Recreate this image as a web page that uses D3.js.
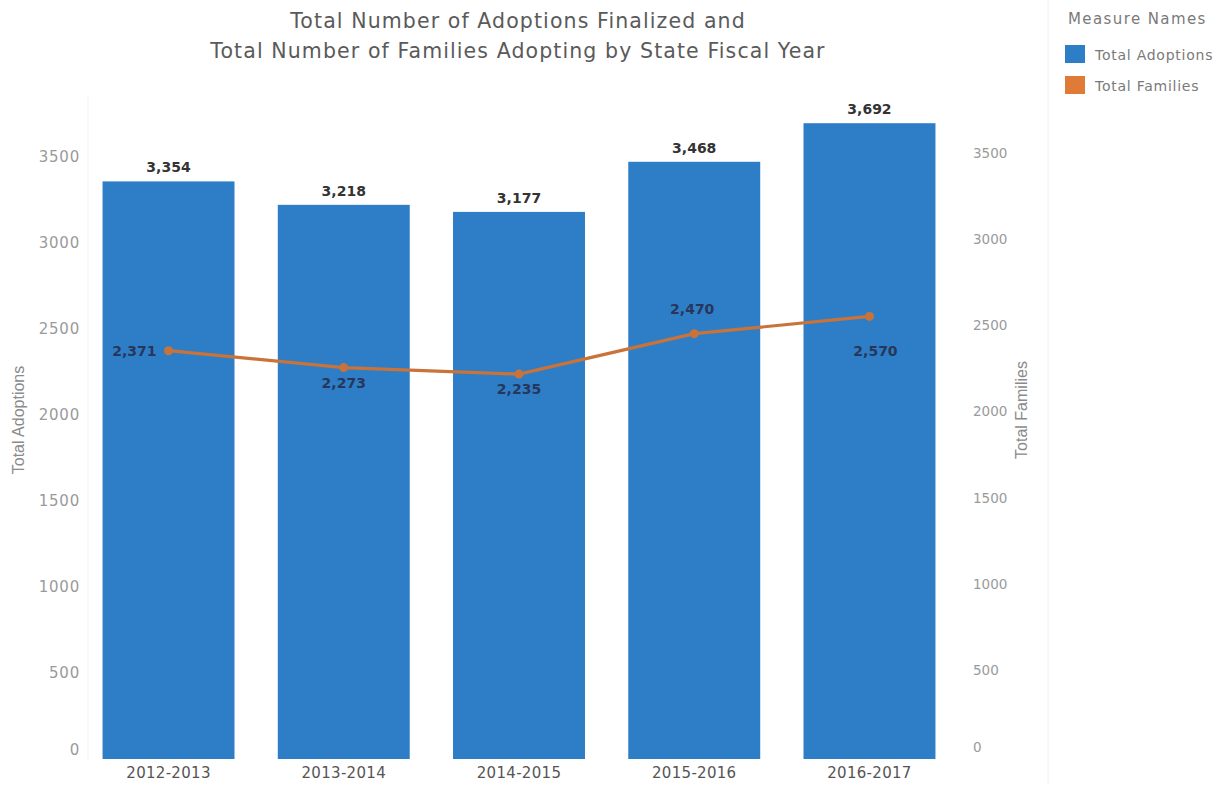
<!DOCTYPE html>
<html>
<head>
<meta charset="utf-8">
<script src="https://cdn.jsdelivr.net/npm/d3@7"></script>
<style>
  html, body { margin: 0; padding: 0; background: #fff; }
  svg { display: block; }
</style>
</head>
<body>
<svg id="chart" width="1222" height="785"></svg>
<script>
const years = ["2012-2013", "2013-2014", "2014-2015", "2015-2016", "2016-2017"];
const totalAdoptions = [3354, 3218, 3177, 3468, 3692];
const totalFamilies = [2371, 2273, 2235, 2470, 2570];
const axisTicks = [0, 500, 1000, 1500, 2000, 2500, 3000, 3500];
const titleLines = ["Total Number of Adoptions Finalized and", "Total Number of Families Adopting by State Fiscal Year"];
const legendItems = ["Total Adoptions", "Total Families"];

const blue = "#2d7ec6";
const orange = "#c9733b";
const svg = d3.select("#chart");
const font = "DejaVu Sans, Verdana, sans-serif";
const fmt = d3.format(",");

const x = d3.scaleBand().domain(years).range([88, 950]).paddingInner(0.247).paddingOuter(0.083);
const y = d3.scaleLinear().domain([0, 3850]).range([759, 96]);
const yR = d3.scaleLinear().domain([0, 3850]).range([756, 93]);

// faint pane separators
svg.append("line").attr("x1", 1048).attr("x2", 1048).attr("y1", 0).attr("y2", 785)
  .attr("stroke", "#f0f0f0").attr("stroke-width", 1);
svg.append("line").attr("x1", 88).attr("x2", 88).attr("y1", 95).attr("y2", 760)
  .attr("stroke", "#f3f3f3").attr("stroke-width", 1);

// title
svg.append("g").selectAll("text").data(titleLines).join("text")
  .attr("x", 518).attr("y", (d, i) => 28 + i * 30)
  .attr("text-anchor", "middle")
  .attr("font-family", font).attr("font-size", 20.5)
  .attr("letter-spacing", 1.1)
  .attr("fill", "#5a5a5a")
  .text(d => d);

// bars
svg.append("g").selectAll("rect").data(years).join("rect")
  .attr("x", d => x(d)).attr("width", x.bandwidth())
  .attr("y", (d, i) => y(totalAdoptions[i]))
  .attr("height", (d, i) => y(0) - y(totalAdoptions[i]))
  .attr("fill", blue);

// bar labels
svg.append("g").selectAll("text").data(years).join("text")
  .attr("x", d => x(d) + x.bandwidth() / 2)
  .attr("y", (d, i) => y(totalAdoptions[i]) - 9)
  .attr("text-anchor", "middle")
  .attr("font-family", font).attr("font-weight", "bold").attr("font-size", 14)
  .attr("fill", "#333")
  .text((d, i) => fmt(totalAdoptions[i]));

// left axis
const yAxisL = d3.axisLeft(y).tickValues(axisTicks).tickSize(0).tickPadding(0).tickFormat(d3.format("d"));
const gL = svg.append("g").attr("transform", "translate(80,0)").call(yAxisL);
gL.select(".domain").remove();
gL.selectAll("text").attr("font-family", font).attr("font-size", 15).attr("letter-spacing", 0.8)
  .attr("fill", "#9a9a9a")
  .attr("dy", d => d === 0 ? "-0.3em" : "0.32em");

// right axis
const yAxisR = d3.axisRight(yR).tickValues(axisTicks).tickSize(0).tickPadding(0).tickFormat(d3.format("d"));
const gR = svg.append("g").attr("transform", "translate(973,0)").call(yAxisR);
gR.select(".domain").remove();
gR.selectAll("text").attr("font-family", font).attr("font-size", 13.5)
  .attr("fill", "#9a9a9a")
  .attr("dy", d => d === 0 ? "-0.3em" : "0.32em");

// axis titles
svg.append("text").attr("transform", "translate(24,420) rotate(-90)")
  .attr("text-anchor", "middle").attr("font-family", "Liberation Sans, Arial, sans-serif")
  .attr("font-size", 16).attr("fill", "#8a8a8a").text("Total Adoptions");
svg.append("text").attr("transform", "translate(1027,410) rotate(-90)")
  .attr("text-anchor", "middle").attr("font-family", "Liberation Sans, Arial, sans-serif")
  .attr("font-size", 16).attr("fill", "#8a8a8a").text("Total Families");

// x axis
const xAxis = d3.axisBottom(x).tickSize(0).tickPadding(0);
const gX = svg.append("g").attr("transform", "translate(0,767)").call(xAxis);
gX.select(".domain").remove();
gX.selectAll("text").attr("font-family", font).attr("font-size", 15).attr("fill", "#555")
  .attr("letter-spacing", 0.3)
  .attr("dy", "0.71em");

// line
const cx = d => x(d) + x.bandwidth() / 2;
const line = d3.line().x((d, i) => cx(years[i])).y(d => y(d));
svg.append("path").datum(totalFamilies).attr("d", line)
  .attr("fill", "none").attr("stroke", orange).attr("stroke-width", 3.2)
  .attr("stroke-linejoin", "round");
svg.append("g").selectAll("circle").data(totalFamilies).join("circle")
  .attr("cx", (d, i) => cx(years[i])).attr("cy", d => y(d)).attr("r", 4.5)
  .attr("fill", orange);

// line labels
const placeLabel = (d, i) => {
  const px = cx(years[i]), py = y(d);
  if (i === 0) return { x: px - 12, y: py + 5, anchor: "end" };
  if (i === 3) return { x: px - 2, y: py - 20, anchor: "middle" };
  if (i === 4) return { x: px + 6, y: py + 40, anchor: "middle" };
  return { x: px, y: py + 20, anchor: "middle" };
};
svg.append("g").selectAll("text").data(totalFamilies).join("text")
  .each(function (d, i) {
    const p = placeLabel(d, i);
    d3.select(this).attr("x", p.x).attr("y", p.y).attr("text-anchor", p.anchor);
  })
  .attr("font-family", font).attr("font-weight", "bold").attr("font-size", 14)
  .attr("fill", "#27365a")
  .text(d => fmt(d));

// legend
const lg = svg.append("g");
lg.append("text").attr("x", 1068).attr("y", 24)
  .attr("font-family", font).attr("font-size", 15).attr("letter-spacing", 1.4)
  .attr("fill", "#7a7a7a").text("Measure Names");
const legendColors = [blue, "#e07a37"];
lg.selectAll("rect").data(legendItems).join("rect")
  .attr("x", 1065).attr("y", (d, i) => 45 + i * 31).attr("width", 20).attr("height", 18)
  .attr("fill", (d, i) => legendColors[i]);
lg.selectAll("text.item").data(legendItems).join("text").attr("class", "item")
  .attr("x", 1095).attr("y", (d, i) => 60 + i * 31)
  .attr("font-family", font).attr("font-size", 14).attr("letter-spacing", 0.75)
  .attr("fill", "#7a7a7a").text(d => d);
</script>
</body>
</html>
